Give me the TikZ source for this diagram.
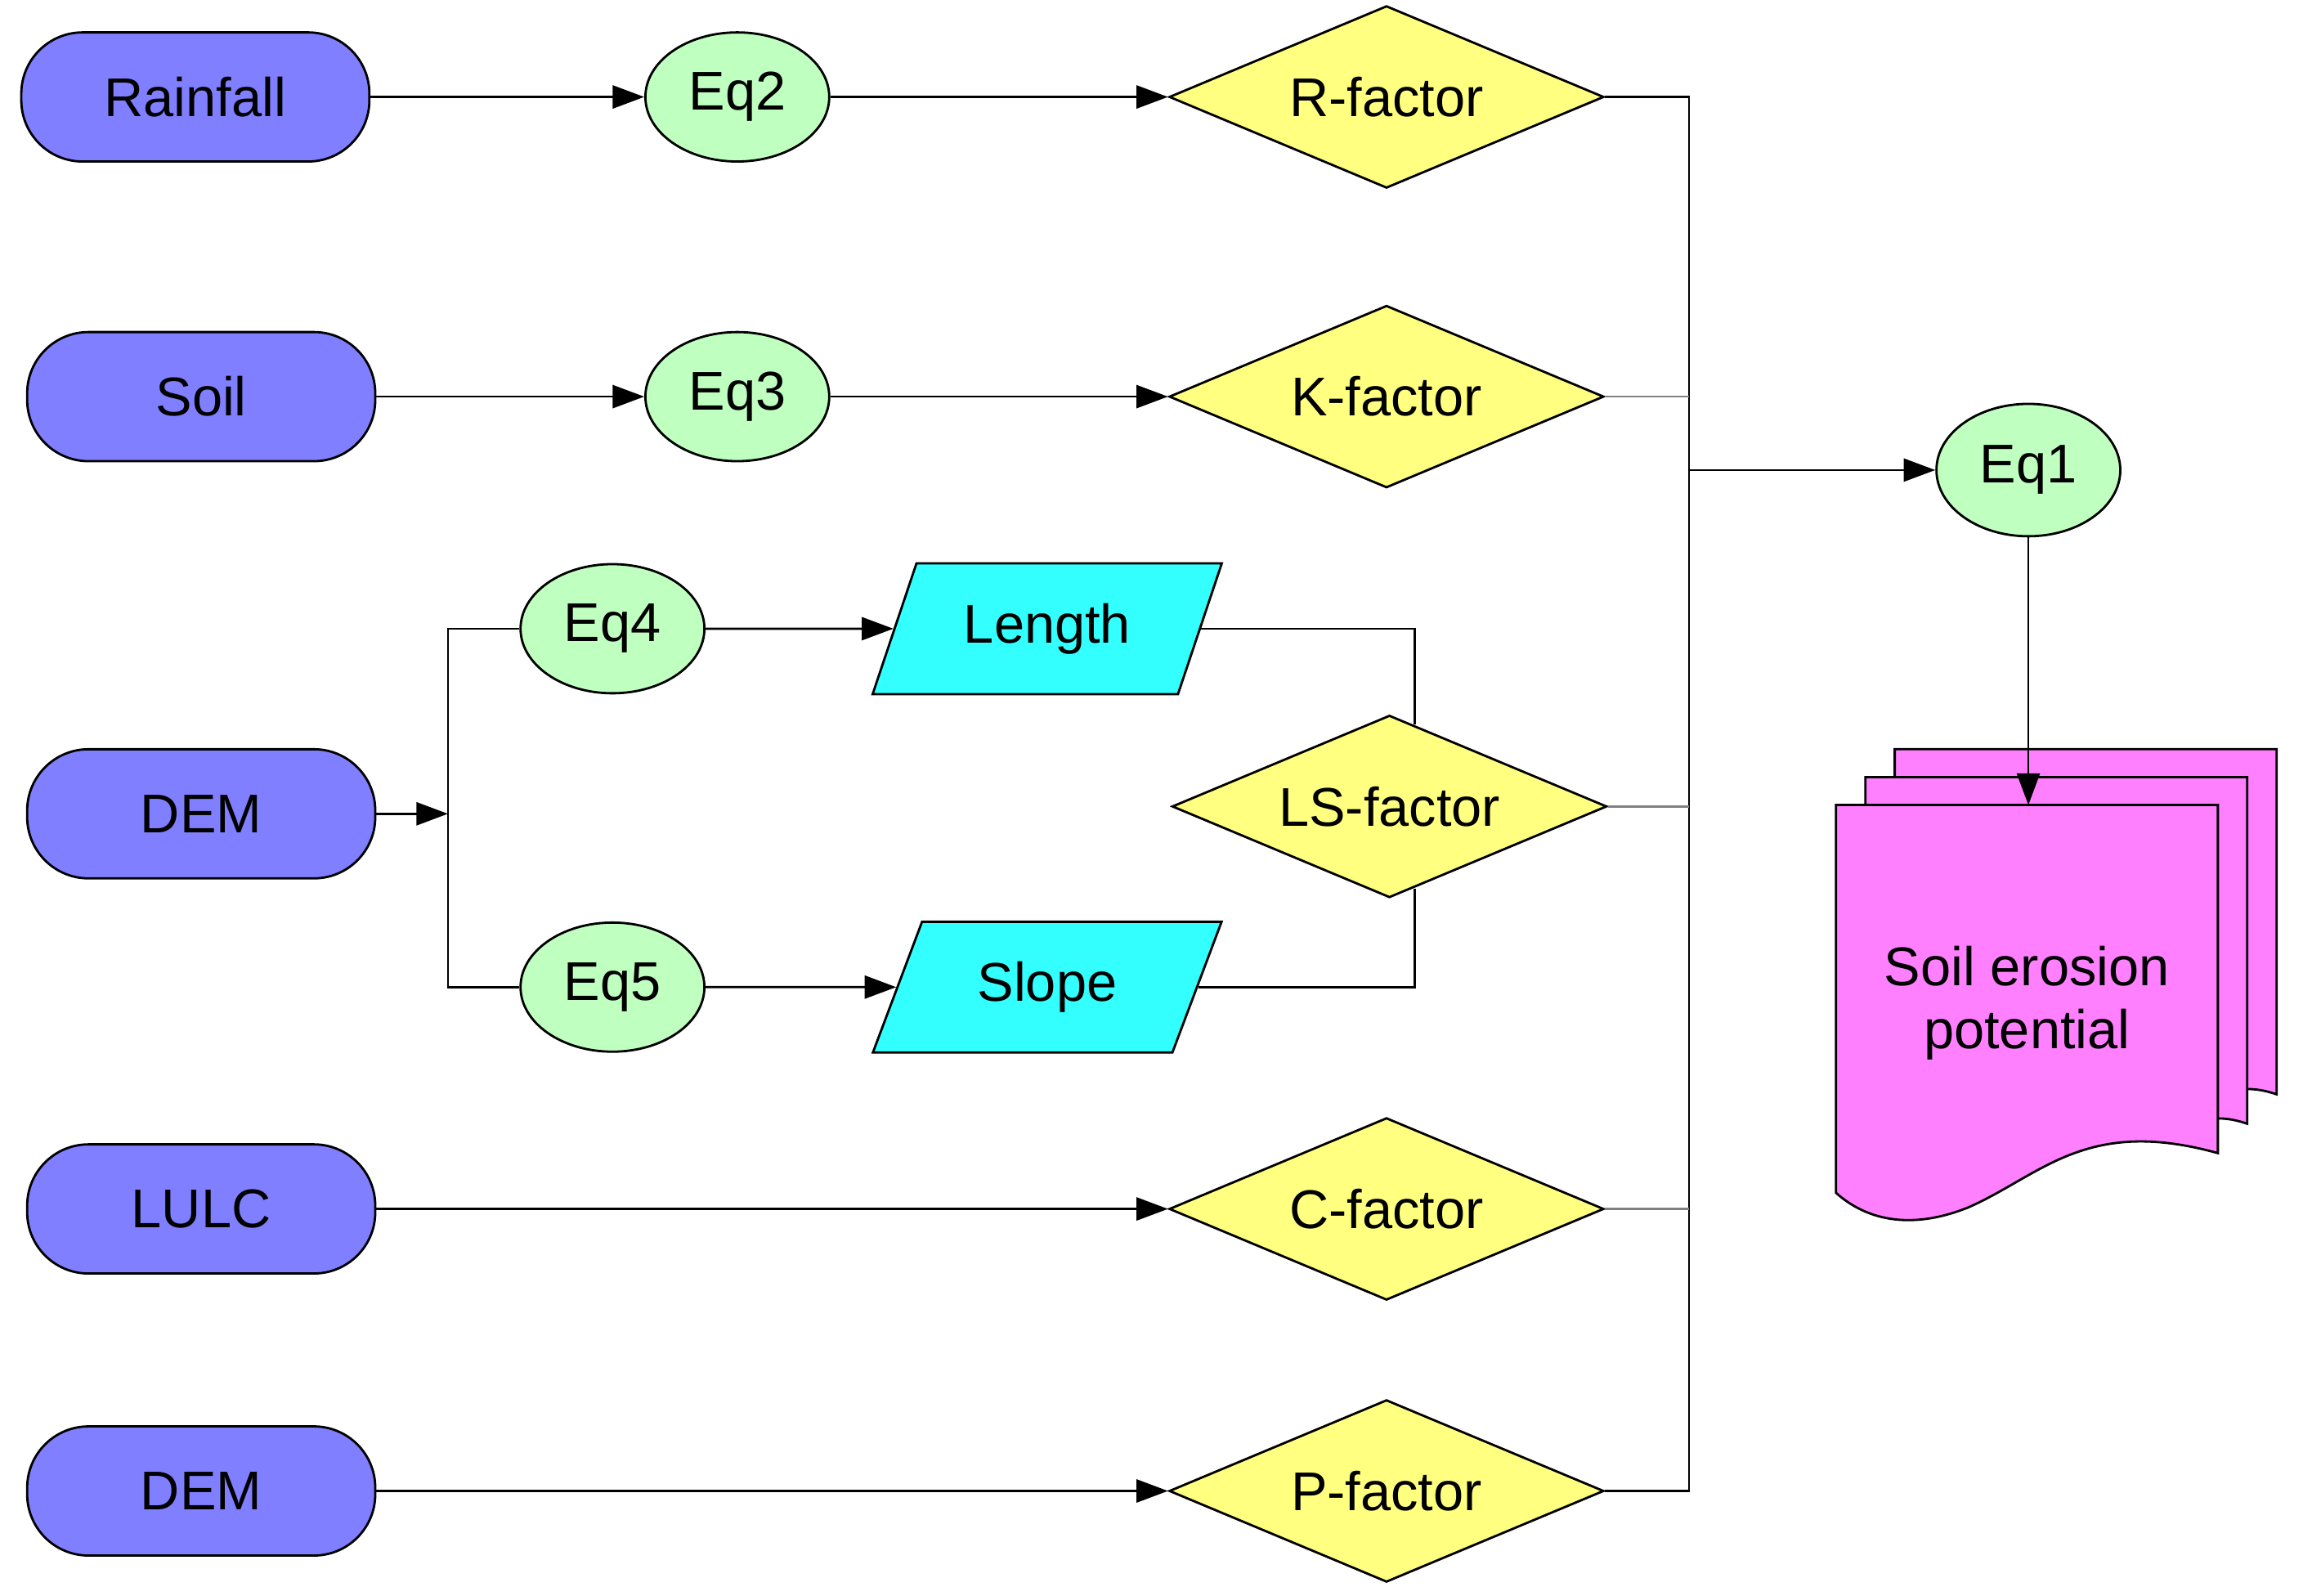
\documentclass[tikz,border=0pt]{standalone}
\usepackage{fontspec}
\setmainfont{Liberation Sans}
\usepackage{tikz}
\usetikzlibrary{positioning,calc,arrows.meta,shapes.geometric}

\definecolor{inblue}{HTML}{7F7FFF}
\definecolor{eqgreen}{HTML}{BFFFBF}
\definecolor{facyellow}{HTML}{FFFF80}
\definecolor{parcyan}{HTML}{33FFFF}
\definecolor{docpink}{HTML}{FF80FF}

\tikzset{
  every node/.style={font=\fontsize{19}{22}\selectfont},
  input/.style={draw,thick,fill=inblue,rounded corners=0.75cm,minimum width=4.26cm,minimum height=1.58cm},
  eqn/.style={draw,thick,ellipse,fill=eqgreen,minimum width=2.25cm,minimum height=1.58cm,inner sep=0pt},
  factor/.style={draw,thick,diamond,fill=facyellow,aspect=2.4,minimum width=5.32cm,minimum height=2.23cm,inner sep=0pt},
  param/.style={draw,thick,trapezium,trapezium left angle=66,trapezium right angle=114,fill=parcyan,minimum width=4.3cm,minimum height=1.6cm,trapezium stretches=true},
  flow/.style={thick,-{Triangle[length=11pt,width=8pt]}},
  link/.style={thick},
  faint/.style={gray,thick}
}

\begin{document}
\begin{tikzpicture}[x=0.01797cm,y=-0.01797cm]
	\useasboundingbox (0,0) rectangle (1568,1086);
	
	% inputs
	\node[input] (rain) at (133,66) {Rainfall};
	\node[input] (soil) at (137,270) {Soil};
	\node[input] (dem) at (137,554) {DEM};
	\node[input] (lulc) at (137,823) {LULC};
	\node[input] (demp) at (137,1015) {DEM};
	
	% equations
	\node[eqn] (eqtwo) at (502,66) {Eq2};
	\node[eqn] (eqthree) at (502,270) {Eq3};
	\node[eqn] (eqfour) at (417,428) {Eq4};
	\node[eqn] (eqfive) at (417,672) {Eq5};
	\node[eqn,minimum height=1.62cm] (eqone) at (1381,320) {Eq1};
	
	% factors
	\node[factor] (rfac) at (944,66) {R-factor};
	\node[factor] (kfac) at (944,270) {K-factor};
	\node[factor] (lsfac) at (946,549) {LS-factor};
	\node[factor] (cfac) at (944,823) {C-factor};
	\node[factor] (pfac) at (944,1015) {P-factor};
	
	\node[param] (len) at (713,428) {Length};
	\node[param] (slope) at (713,672) {Slope};
	
	% output stack
	\draw[thick,fill=docpink] (1290,510) -- (1550,510) -- (1550,745) .. controls (1530,738) and (1515,742) .. (1510,750) -- (1290,750) -- cycle;
	\draw[thick,fill=docpink] (1270,529) -- (1530,529) -- (1530,765) .. controls (1510,758) and (1495,762) .. (1490,770) -- (1270,770) -- cycle;
	\draw[thick,fill=docpink] (1250,548) -- (1510,548) -- (1510,785)
		.. controls (1420,760) and (1390,800) .. (1340,822)
		.. controls (1300,838) and (1270,830) .. (1250,812) -- cycle;
	\node[align=center] (sep) at (1380,683) {Soil erosion\\potential};
	
	% helper points
	\coordinate (bt) at (1150,66);
	\coordinate (bm) at (1150,320);
	\coordinate (bb) at (1150,1015);
	\coordinate (br) at (305,554);
	\coordinate (bqf) at (305,428);
	\coordinate (bqs) at (305,672);
	\coordinate (lst) at (963,493);
	\coordinate (lsb) at (963,605);
	\coordinate (dtop) at (1381,548);
	
	% connectors
	\draw[flow] (rain) -- (eqtwo);
	\draw[flow] (eqtwo) -- (rfac);
	\draw[flow] (soil) -- (eqthree);
	\draw[flow] (eqthree) -- (kfac);
	\draw[flow] (lulc) -- (cfac);
	\draw[flow] (demp) -- (pfac);
	\draw[flow] (dem) -- (br);
	\draw[link] (eqfour.west) -- (bqf) -- (bqs) -- (eqfive.west);
	\draw[flow] (eqfour) -- (len);
	\draw[flow] (eqfive) -- (slope);
	\draw[link] (len.east) -| (lst);
	\draw[link] (slope.east) -| (lsb);
	
	\draw[link] (rfac.east) -- (bt) -- (bb) -- (pfac.east);
	\draw[faint] (kfac.east) -- (kfac.east -| bt);
	\draw[faint] (lsfac.east) -- (lsfac.east -| bt);
	\draw[faint] (cfac.east) -- (cfac.east -| bt);
	\draw[flow] (bm) -- (eqone);
	\draw[flow] (eqone) -- (dtop);
\end{tikzpicture}
\end{document}
